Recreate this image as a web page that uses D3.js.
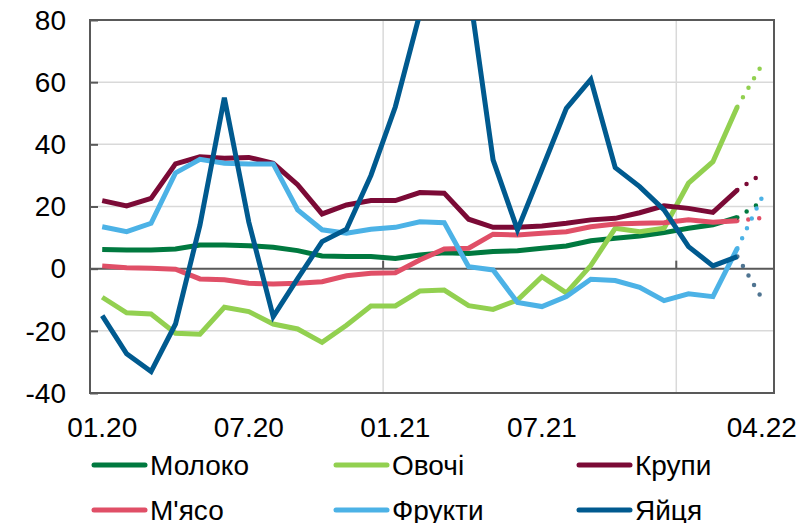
<!DOCTYPE html>
<html>
<head>
<meta charset="utf-8">
<script src="https://cdn.jsdelivr.net/npm/d3@7"></script>
<style>
  body { margin: 0; background: #fff; }
  svg { display: block; font-family: "Liberation Sans", Arial, sans-serif; }
</style>
</head>
<body>
<svg width="802" height="523"></svg>
<script>
// months on the category axis (01.20 .. 04.22)
var months = ['01.20','02.20','03.20','04.20','05.20','06.20','07.20','08.20','09.20','10.20','11.20','12.20',
              '01.21','02.21','03.21','04.21','05.21','06.21','07.21','08.21','09.21','10.21','11.21','12.21',
              '01.22','02.22','03.22','04.22'];
var tickLabels = ['01.20','07.20','01.21','07.21','04.22'];
var yTicks = [-40, -20, 0, 20, 40, 60, 80];

// actual values 01.20 .. 03.22
var moloko = [6.2, 6.0, 6.0, 6.3, 7.6, 7.6, 7.4, 6.9, 5.8, 4.1, 3.9, 3.9, 3.3, 4.4, 5.1, 4.9, 5.5, 5.8, 6.6, 7.3, 9.0, 9.8, 10.5, 11.6, 13.0, 14.1, 16.5];
var ovochi = [-9.2, -14.2, -14.6, -20.8, -21.1, -12.4, -13.8, -17.8, -19.4, -23.7, -18.2, -12.0, -12.0, -7.2, -6.9, -11.9, -13.1, -10.1, -2.6, -7.8, 1.0, 13.0, 11.9, 13.0, 27.5, 34.4, 52.1];
var krupy = [21.9, 20.2, 22.6, 33.7, 36.0, 35.5, 35.8, 33.9, 27.0, 17.6, 20.5, 21.9, 21.9, 24.5, 24.3, 15.9, 13.3, 13.3, 13.7, 14.6, 15.7, 16.2, 18.0, 20.2, 19.4, 18.1, 25.3];
var myaso = [0.9, 0.3, 0.1, -0.2, -3.3, -3.6, -4.7, -4.9, -4.7, -4.2, -2.3, -1.5, -1.3, 2.8, 6.3, 6.6, 11.1, 10.8, 11.4, 11.9, 13.5, 14.4, 14.6, 14.8, 15.7, 14.9, 15.4];
var frukty = [13.5, 11.9, 14.6, 30.8, 35.2, 33.9, 33.7, 33.7, 18.9, 12.5, 11.4, 12.7, 13.3, 15.1, 14.8, 0.6, -0.4, -10.9, -12.2, -9.0, -3.4, -3.8, -6.0, -10.3, -8.1, -9.0, 6.6];
var yaytsya = [-15.1, -27.4, -33.1, -17.8, 14.0, 55.0, 15.0, -15.4, -3.2, 8.7, 12.7, 30.0, 52.1, 82.0, 95.0, 91.0, 35.0, 12.5, 32.0, 51.6, 60.9, 32.5, 26.4, 18.9, 7.1, 0.9, 3.9];

// forecast for 04.22 (dotted)
var forecast = [21.5, 65.5, 30.5, 16.3, 22.8, -9.5];

var names = ['Молоко', 'Овочі', 'Крупи', "М'ясо", 'Фрукти', 'Яйця'];
var colors = ['#00793f', '#92d050', '#7b0a36', '#e04f67', '#4cb2e6', '#005a8f'];
var dotColors = ['#00793f', '#92d050', '#7b0a36', '#e04f67', '#4cb2e6', '#4f7491'];
var values = [moloko, ovochi, krupy, myaso, frukty, yaytsya];

var svg = d3.select('svg');
var plotL = 90, plotR = 774, plotT = 20, plotB = 393;

var x = d3.scaleBand().domain(months).range([plotL, plotR]).padding(0);
var y = d3.scaleLinear().domain([-40, 80]).range([plotB, plotT]);
var cx = function(m) { return x(m) + x.bandwidth() / 2; };

svg.append('defs').append('clipPath').attr('id', 'plot')
    .append('rect').attr('x', plotL).attr('y', plotT).attr('width', plotR - plotL).attr('height', plotB - plotT);

// horizontal grid lines
svg.append('g').selectAll('line')
    .data(yTicks.filter(function(t) { return t !== 0 && t !== 80 && t !== -40; }))
    .join('line')
    .attr('x1', plotL).attr('x2', plotR)
    .attr('y1', function(d) { return y(d); }).attr('y2', function(d) { return y(d); })
    .attr('stroke', '#d9d9d9').attr('stroke-width', 1.5);

// vertical grid lines at year boundaries
svg.append('g').selectAll('line')
    .data(['01.21', '01.22'])
    .join('line')
    .attr('x1', function(d) { return x(d); }).attr('x2', function(d) { return x(d); })
    .attr('y1', plotT).attr('y2', plotB)
    .attr('stroke', '#d9d9d9').attr('stroke-width', 1.5);

// frame
svg.append('rect')
    .attr('x', plotL).attr('y', plotT).attr('width', plotR - plotL).attr('height', plotB - plotT)
    .attr('fill', 'none').attr('stroke', '#595959').attr('stroke-width', 2);

// y axis (ticks inside)
var yAxis = svg.append('g')
    .attr('transform', 'translate(' + plotL + ',0)')
    .call(d3.axisRight(y).tickValues(yTicks).tickSize(8).tickFormat(''));
yAxis.select('.domain').remove();
yAxis.selectAll('line').attr('stroke', '#595959').attr('stroke-width', 2);

svg.append('g').selectAll('text')
    .data(yTicks)
    .join('text')
    .attr('x', 66).attr('y', function(d) { return y(d); })
    .attr('dy', '0.35em')
    .attr('text-anchor', 'end')
    .attr('font-size', 28)
    .attr('fill', '#000')
    .text(function(d) { return d; });

// zero line with small ticks
svg.append('line')
    .attr('x1', plotL).attr('x2', plotR)
    .attr('y1', y(0)).attr('y2', y(0))
    .attr('stroke', '#595959').attr('stroke-width', 2);
svg.append('g').selectAll('line')
    .data(['01.21', '01.22'])
    .join('line')
    .attr('x1', function(d) { return x(d); }).attr('x2', function(d) { return x(d); })
    .attr('y1', y(0)).attr('y2', y(0) - 8)
    .attr('stroke', '#595959').attr('stroke-width', 2);

// x tick labels
svg.append('g').selectAll('text')
    .data(tickLabels)
    .join('text')
    .attr('x', function(d) { return cx(d); }).attr('y', 437)
    .attr('text-anchor', 'middle')
    .attr('font-size', 28)
    .attr('fill', '#000')
    .text(function(d) { return d; });

// series
var line = d3.line()
    .x(function(d) { return cx(d.m); })
    .y(function(d) { return y(d.v); });

var plot = svg.append('g').attr('clip-path', 'url(#plot)');
values.forEach(function(vals, k) {
    var last = { m: months[vals.length - 1], v: vals[vals.length - 1] };
    // dotted forecast segment
    plot.append('path')
        .datum([last, { m: months[months.length - 1], v: forecast[k] }])
        .attr('d', line)
        .attr('fill', 'none')
        .attr('stroke', dotColors[k])
        .attr('stroke-width', 4.5)
        .attr('stroke-linecap', 'round')
        .attr('stroke-dasharray', '0 11');
});
values.forEach(function(vals, k) {
    var pts = vals.map(function(v, i) { return { m: months[i], v: v }; });
    plot.append('path')
        .datum(pts)
        .attr('d', line)
        .attr('fill', 'none')
        .attr('stroke', colors[k])
        .attr('stroke-width', 5)
        .attr('stroke-linejoin', 'miter');
});

// legend
var legX = [92, 334, 577];
var legY = [465, 510];
var legend = svg.append('g').selectAll('g')
    .data(names)
    .join('g')
    .attr('transform', function(d, i) { return 'translate(' + legX[i % 3] + ',' + legY[Math.floor(i / 3)] + ')'; });
legend.append('line')
    .attr('x1', 2).attr('x2', 53)
    .attr('stroke', function(d, i) { return colors[i]; })
    .attr('stroke-width', 5)
    .attr('stroke-linecap', 'round');
legend.append('text')
    .attr('x', 58).attr('dy', 9.5)
    .attr('font-size', 28)
    .attr('fill', '#000')
    .text(function(d) { return d; });
</script>
</body>
</html>
